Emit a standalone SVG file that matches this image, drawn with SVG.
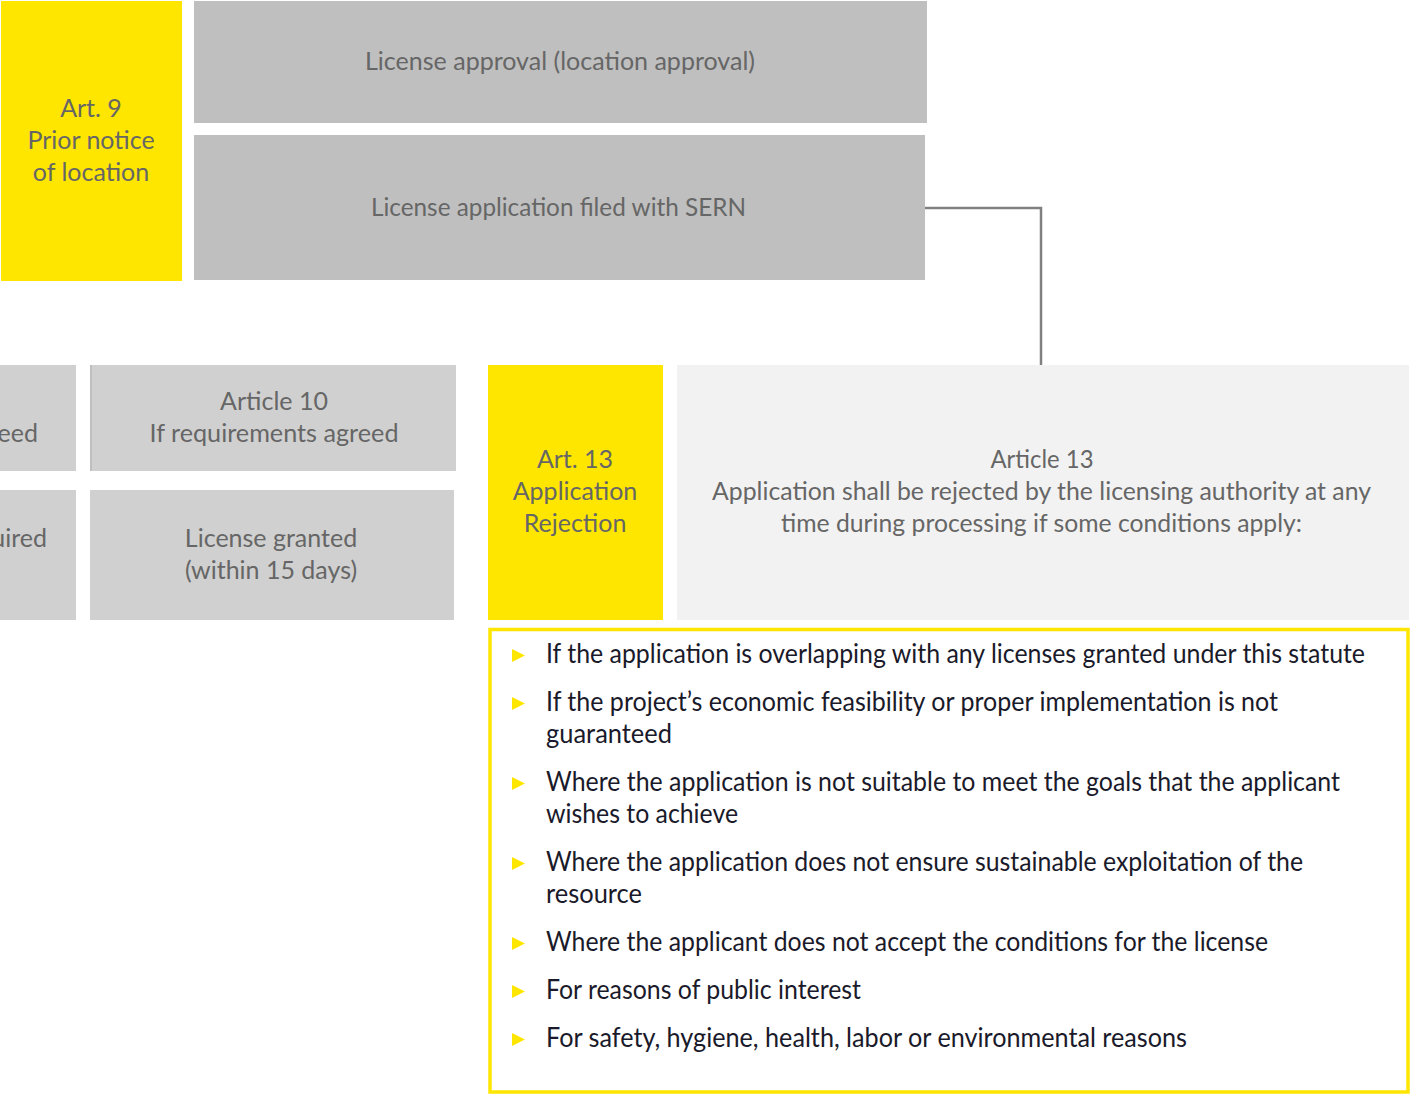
<svg xmlns="http://www.w3.org/2000/svg" width="1410" height="1094" viewBox="0 0 1410 1094">
<style>
.y{fill:#FFE600}
.g1{fill:#BFBFBF}
.g2{fill:#D0D0D0}
.g3{fill:#F2F2F2}
.t{font-family:"Lato","Liberation Sans",sans-serif;font-size:25px;fill:#666666;text-anchor:middle}
.l{font-family:"Lato","Liberation Sans",sans-serif;font-size:26px;fill:#1A1A2A}
.b{fill:#FFE600}
.c{fill:none;stroke:#808080;stroke-width:2.5}
</style>
<rect width="1410" height="1094" fill="#FFFFFF"/>
<g id="connectors">
<path class="c" d="M925,208 H1041 V365"/>
</g>
<g id="art9">
<rect class="y" x="1" y="1" width="181" height="280"/>
<text class="t"><tspan x="91" y="117">Art. 9</tspan><tspan x="91" y="149">Prior notice</tspan><tspan x="91" y="181">of location</tspan></text>
</g>
<g id="license-approval">
<rect class="g1" x="194" y="1" width="733" height="122"/>
<text class="t" x="560" y="70" textLength="390" lengthAdjust="spacingAndGlyphs">License approval (location approval)</text>
</g>
<g id="license-application">
<rect class="g1" x="194" y="135" width="731" height="145"/>
<text class="t" x="558.5" y="216" textLength="375" lengthAdjust="spacingAndGlyphs">License application filed with SERN</text>
</g>
<g id="partial-top">
<rect class="g2" x="0" y="365" width="76" height="106"/>
<text class="t" x="38" y="442" style="text-anchor:end">eed</text>
</g>
<g id="partial-bottom">
<rect class="g2" x="0" y="490" width="76" height="130"/>
<text class="t" x="47" y="547" style="text-anchor:end">uired</text>
</g>
<g id="article10">
<rect class="g2" x="90" y="365" width="366" height="106"/>
<rect class="g1" x="90" y="365" width="2" height="106"/>
<text class="t"><tspan x="274" y="410">Article 10</tspan><tspan x="274" y="442" textLength="249" lengthAdjust="spacingAndGlyphs">If requirements agreed</tspan></text>
</g>
<g id="license-granted">
<rect class="g2" x="90" y="490" width="364" height="130"/>
<text class="t"><tspan x="271" y="547">License granted</tspan><tspan x="271" y="579">(within 15 days)</tspan></text>
</g>
<g id="art13">
<rect class="y" x="488" y="365" width="175" height="255"/>
<text class="t"><tspan x="575" y="468">Art. 13</tspan><tspan x="575" y="500">Application</tspan><tspan x="575" y="532">Rejection</tspan></text>
</g>
<g id="article13">
<rect class="g3" x="677" y="365" width="732" height="255"/>
<text class="t"><tspan x="1042" y="468" textLength="103" lengthAdjust="spacingAndGlyphs">Article 13</tspan><tspan x="1041.5" y="500" textLength="659" lengthAdjust="spacingAndGlyphs">Application shall be rejected by the licensing authority at any</tspan><tspan x="1041.5" y="532" textLength="521" lengthAdjust="spacingAndGlyphs">time during processing if some conditions apply:</tspan></text>
</g>
<g id="conditions">
<rect x="490" y="629.5" width="918" height="462.5" fill="#FFFFFF" stroke="#FFE600" stroke-width="3.5"/>
<g>
<path class="b" d="M512,649 L525,655.5 L512,662 Z"/>
<path class="b" d="M512,697 L525,703.5 L512,710 Z"/>
<path class="b" d="M512,777 L525,783.5 L512,790 Z"/>
<path class="b" d="M512,857 L525,863.5 L512,870 Z"/>
<path class="b" d="M512,937 L525,943.5 L512,950 Z"/>
<path class="b" d="M512,985 L525,991.5 L512,998 Z"/>
<path class="b" d="M512,1033 L525,1039.5 L512,1046 Z"/>
</g>
<text class="l" x="546" y="663" textLength="819" lengthAdjust="spacingAndGlyphs">If the application is overlapping with any licenses granted under this statute</text>
<text class="l" x="546" y="711" textLength="732" lengthAdjust="spacingAndGlyphs">If the project’s economic feasibility or proper implementation is not</text>
<text class="l" x="546" y="743" textLength="126" lengthAdjust="spacingAndGlyphs">guaranteed</text>
<text class="l" x="546" y="791" textLength="794" lengthAdjust="spacingAndGlyphs">Where the application is not suitable to meet the goals that the applicant</text>
<text class="l" x="546" y="823" textLength="192" lengthAdjust="spacingAndGlyphs">wishes to achieve</text>
<text class="l" x="546" y="871" textLength="757" lengthAdjust="spacingAndGlyphs">Where the application does not ensure sustainable exploitation of the</text>
<text class="l" x="546" y="903" textLength="96" lengthAdjust="spacingAndGlyphs">resource</text>
<text class="l" x="546" y="951" textLength="722" lengthAdjust="spacingAndGlyphs">Where the applicant does not accept the conditions for the license</text>
<text class="l" x="546" y="999" textLength="315" lengthAdjust="spacingAndGlyphs">For reasons of public interest</text>
<text class="l" x="546" y="1047" textLength="641" lengthAdjust="spacingAndGlyphs">For safety, hygiene, health, labor or environmental reasons</text>
</g>
</svg>
